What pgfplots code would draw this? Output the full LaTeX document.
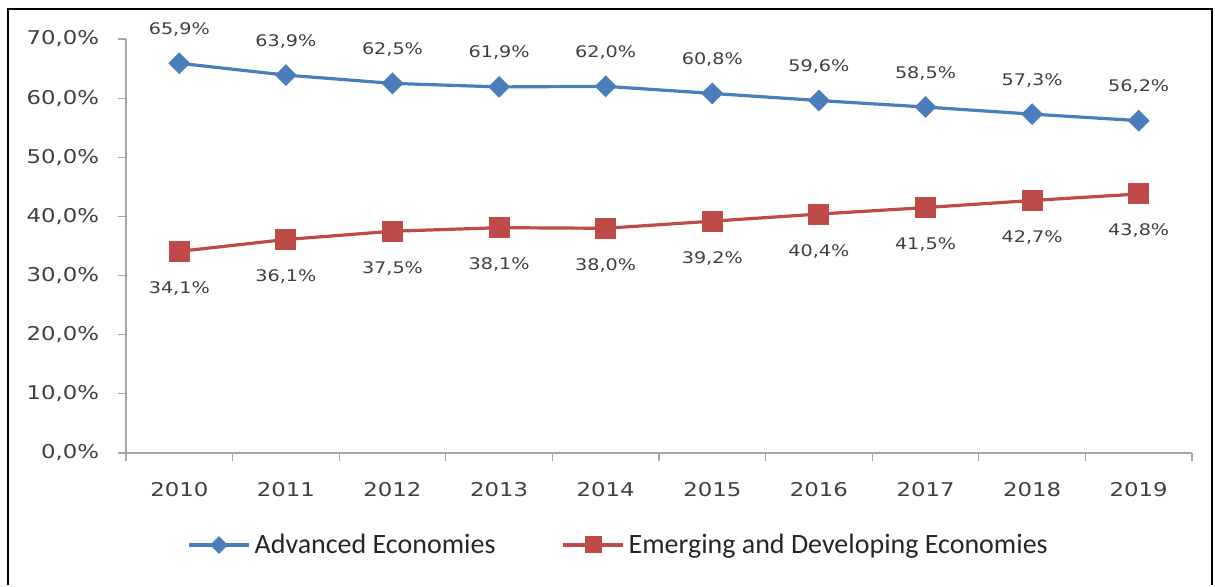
\documentclass[border=0pt]{standalone}
\usepackage{fontspec}
\setmainfont{DejaVu Sans}[FakeStretch=1.2]
\newfontfamily\legfont{Carlito}
\usepackage{pgfplots}
\pgfplotsset{compat=1.18}
\definecolor{advblue}{HTML}{4A7EBB}
\definecolor{emred}{HTML}{BE4B48}
\definecolor{axgray}{HTML}{A6A6A6}
\definecolor{txt}{HTML}{404040}
\begin{document}
\begin{tikzpicture}[x=1pt,y=1pt]
\path (0,0) rectangle (607.5,291.5);
\draw[line width=1pt] (4,-1) -- (4,287) -- (606,287) -- (606,-1);
\begin{axis}[
  at={(63pt,65pt)}, anchor=south west,
  scale only axis, width=533pt, height=207pt,
  xmin=-0.5, xmax=9.5, ymin=0, ymax=70,
  clip=false,
  axis lines=left,
  axis line style={-, draw=axgray, line width=0.6pt},
  tick style={draw=axgray, line width=0.6pt},
  tick align=outside, major tick length=4pt,
  xtick={-0.5,0.5,...,9.5},
  x tick label as interval,
  xticklabels={2010,2011,2012,2013,2014,2015,2016,2017,2018,2019},
  ytick={0,10,...,70},
  /pgf/number format/assume math mode=true,
  yticklabel={\pgfmathprintnumber[fixed,fixed zerofill,precision=1,use comma]{\tick}\%},
  yticklabel style={font=\fontsize{9.5}{11}\selectfont, text=txt, xshift=-6pt},
  xticklabel style={font=\fontsize{9.5}{11}\selectfont, text=txt, yshift=-7pt},
  nodes near coords={\pgfmathprintnumber[fixed,fixed zerofill,precision=1,use comma]{\pgfplotspointmeta}\%},
  legend columns=2,
  legend style={at={(0.463,-0.222)}, anchor=center, draw=none, fill=none,
    font=\legfont\fontsize{14}{16}\selectfont, text=black!85,
    /tikz/every even column/.append style={column sep=31pt}},
  legend image code/.code={\draw[#1,/tikz/every mark/.append style={scale=0.8},mark repeat=2,mark phase=2] plot coordinates {(0pt,0pt) (15pt,0pt) (30pt,0pt)};},
]
\addplot[color=advblue, line width=1.6pt, mark=square*, mark size=3.6pt,
  mark options={rotate=45, fill=advblue, draw=advblue, line width=0.5pt},
  every node near coord/.append style={anchor=center, yshift=17pt, font=\fontsize{8}{9.6}\selectfont, text=txt}]
coordinates {(0,65.9) (1,63.9) (2,62.5) (3,61.9) (4,62.0) (5,60.8) (6,59.6) (7,58.5) (8,57.3) (9,56.2)};
\addlegendentry{Advanced Economies}
\addplot[color=emred, line width=1.6pt, mark=square*, mark size=5pt,
  mark options={fill=emred, draw=emred, line width=0.5pt},
  every node near coord/.append style={anchor=center, yshift=-18.5pt, font=\fontsize{8}{9.6}\selectfont, text=txt}]
coordinates {(0,34.1) (1,36.1) (2,37.5) (3,38.1) (4,38.0) (5,39.2) (6,40.4) (7,41.5) (8,42.7) (9,43.8)};
\addlegendentry{Emerging and Developing Economies}
\end{axis}
\end{tikzpicture}
\end{document}
